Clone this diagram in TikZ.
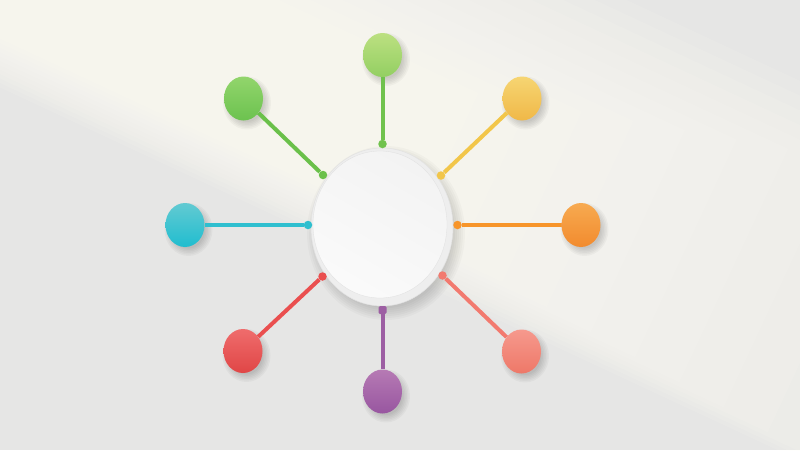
\documentclass[tikz,border=0pt]{standalone}
\usetikzlibrary{shapes.geometric}
\pgfdeclarelayer{bglayer}\pgfdeclarelayer{shadlayer}
\pgfsetlayers{bglayer,shadlayer,main}
\definecolor{bgc}{HTML}{E6E6E5}
\definecolor{cream}{HTML}{FFFEF6}
\definecolor{faceC}{HTML}{F3F3F3}
\definecolor{rimC}{HTML}{EEEEEE}
\definecolor{rimB}{HTML}{E2E2E2}
\definecolor{gTopL}{HTML}{BCE081}\definecolor{gTopD}{HTML}{93CF62}\definecolor{gTopS}{HTML}{70C24D}
\definecolor{gTLL}{HTML}{92D56C}\definecolor{gTLD}{HTML}{6CC24F}\definecolor{gTLS}{HTML}{6AC04A}
\definecolor{yTRL}{HTML}{F6D572}\definecolor{yTRD}{HTML}{F0B848}\definecolor{yTRS}{HTML}{F2C64A}
\definecolor{cLL}{HTML}{62CAD2}\definecolor{cLD}{HTML}{20BDCF}\definecolor{cLS}{HTML}{2FBFCF}
\definecolor{oRL}{HTML}{F7AA50}\definecolor{oRD}{HTML}{F28B2E}\definecolor{oRS}{HTML}{F7952A}
\definecolor{rBLL}{HTML}{EF6C6C}\definecolor{rBLD}{HTML}{E04646}\definecolor{rBLS}{HTML}{EA4F4F}
\definecolor{sBRL}{HTML}{F6998D}\definecolor{sBRD}{HTML}{EE7868}\definecolor{sBRS}{HTML}{F27A6F}
\definecolor{pBL}{HTML}{B67AB4}\definecolor{pBD}{HTML}{9856A0}\definecolor{pBS}{HTML}{9D5FA3}
\tikzset{
  sat/.style={ellipse, minimum width=39pt, minimum height=44pt, inner sep=0pt,
    shading=axis, shading angle=135},
  hub/.style={circle, minimum size=8.5pt, inner sep=0pt},
  stem/.style={line width=4pt, line cap=butt},
  softshadow/.style={fill=black, opacity=0.03},
}
\begin{document}
\begin{tikzpicture}[x=1pt,y=-1pt]
\useasboundingbox (0,0) rectangle (800,450);
% central disc
\node[ellipse, minimum width=142pt, minimum height=158pt, inner sep=0pt, fill=rimC, draw=rimB, line width=0.5pt] (rim) at (382,227) {};
\node[ellipse, minimum width=134pt, minimum height=147pt, inner sep=0pt, top color=white!60!faceC, bottom color=faceC,
  shading angle=150, draw=white!88!black, line width=0.3pt] (face) at (380,224.5) {};
% satellites
\node[sat, top color=gTopL, bottom color=gTopD] (sTop) at (382.5,55) {};
\node[sat, top color=gTLL, bottom color=gTLD] (sTL) at (243.5,98.5) {};
\node[sat, top color=yTRL, bottom color=yTRD] (sTR) at (522,98.5) {};
\node[sat, top color=cLL, bottom color=cLD] (sL) at (185,225) {};
\node[sat, top color=oRL, bottom color=oRD] (sR) at (581,225) {};
\node[sat, top color=rBLL, bottom color=rBLD] (sBL) at (243,351) {};
\node[sat, top color=sBRL, bottom color=sBRD] (sBR) at (521.5,351.5) {};
\node[sat, top color=pBL, bottom color=pBD] (sB) at (382.5,391.5) {};
% hub dots
\node[hub, fill=gTopS] (dTop) at (382.5,144) {};
\node[hub, fill=gTLS] (dTL) at (323,175) {};
\node[hub, fill=yTRS] (dTR) at (441,175.5) {};
\node[hub, fill=cLS] (dL) at (308,225) {};
\node[hub, fill=oRS] (dR) at (457.5,225) {};
\node[hub, fill=rBLS] (dBL) at (322.5,276.5) {};
\node[hub, fill=sBRS] (dBR) at (442.5,275.5) {};
\node[hub, fill=pBS, rounded corners=1.5pt, rectangle, minimum size=8pt] (dB) at (382.5,310) {};
% stems
\draw[stem, gTopS] (dTop) -- (sTop);
\draw[stem, gTLS] (dTL) -- (sTL);
\draw[stem, yTRS] (dTR) -- (sTR);
\draw[stem, cLS] (dL) -- (sL);
\draw[stem, oRS] (dR) -- (sR);
\draw[stem, rBLS] (dBL) -- (sBL);
\draw[stem, sBRS] (dBR) -- (sBR);
\draw[stem, pBS] (dB) -- (sB);
% background and light beam
\begin{pgfonlayer}{bglayer}
\fill[bgc] (0,0) rectangle (800,450);
\begin{scope}
\clip (0,0) rectangle (800,450);
\begin{scope}[shift={(0,72)}, rotate=-25]
\foreach \k in {0,...,15} {
  \pgfmathsetmacro\t{\k/15}
  \pgfmathsetmacro\lo{14-60*\t}
  \pgfmathsetmacro\hi{-330+200*\t}
  \pgfmathsetmacro\len{1000-760*\t}
  \fill[cream, opacity=0.105] (-300,\hi) rectangle (\len,\lo);
}
\end{scope}
\end{scope}
\end{pgfonlayer}
% soft shadows
\begin{pgfonlayer}{shadlayer}
\foreach \s in {sTop,sTL,sTR,sL,sR,sBL,sBR,sB} {
  \foreach \r in {-3,-1.5,0,1.5,3,4.5} {
    \fill[softshadow] ([shift={(3.5,4.5)}]\s.center) ellipse [x radius=19.5+\r, y radius=22+\r];
  }
}
\foreach \r in {-4,-2,0,2,4,6,8} {
  \fill[softshadow, opacity=0.025] ([shift={(4,6)}]rim.center) ellipse [x radius=71+\r, y radius=79+\r];
}
\end{pgfonlayer}
\end{tikzpicture}
\end{document}
